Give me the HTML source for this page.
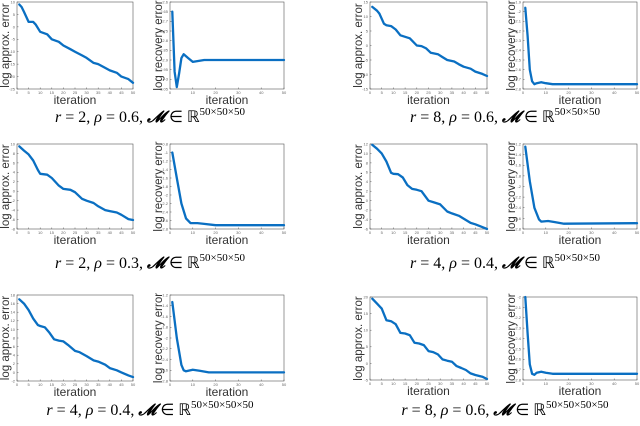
<!DOCTYPE html>
<html><head><meta charset="utf-8"><style>
html,body{margin:0;padding:0;background:#fff;width:640px;height:426px;overflow:hidden}
.cap{position:absolute;font-family:"Liberation Serif",serif;font-size:16px;white-space:nowrap;transform:translateX(-50%)}
.cap i{font-style:italic}
.cap sup{font-size:11px;vertical-align:7px}
</style></head><body>
<svg id="fig" width="640" height="426" style="position:absolute;left:0;top:0"></svg>
<div class="cap" style="left:150px;top:106px"><i>r</i> = 2, <i>ρ</i> = 0.6, <b><i>𝓜</i></b> ∈ ℝ<sup>50×50×50</sup></div>
<div class="cap" style="left:505px;top:106px"><i>r</i> = 8, <i>ρ</i> = 0.6, <b><i>𝓜</i></b> ∈ ℝ<sup>50×50×50</sup></div>
<div class="cap" style="left:150px;top:252px"><i>r</i> = 2, <i>ρ</i> = 0.3, <b><i>𝓜</i></b> ∈ ℝ<sup>50×50×50</sup></div>
<div class="cap" style="left:505px;top:252px"><i>r</i> = 4, <i>ρ</i> = 0.4, <b><i>𝓜</i></b> ∈ ℝ<sup>50×50×50</sup></div>
<div class="cap" style="left:150px;top:399px"><i>r</i> = 4, <i>ρ</i> = 0.4, <b><i>𝓜</i></b> ∈ ℝ<sup>50×50×50×50</sup></div>
<div class="cap" style="left:505px;top:399px"><i>r</i> = 8, <i>ρ</i> = 0.6, <b><i>𝓜</i></b> ∈ ℝ<sup>50×50×50×50</sup></div>
<script>
// data arrays
const p1x=[1,2,3,5,7,8,10,13,15,18,20,23,25,28,30,33,35,38,40,43,45,48,50];
const p1y=[9,8,6,2,2,1,-2,-3,-5,-6,-7.5,-9,-10,-11.5,-12.5,-14.5,-15,-16.5,-17.5,-18.5,-20,-21,-22.5];
const p2x=[1,2,3,4,5,6,8,10,15,50];
const p2y=[-2.65,-2.96,-3.04,-2.97,-2.89,-2.87,-2.89,-2.91,-2.9,-2.9];
const p3x=[1,3,5,7,9,10,13,15,18,20,23,25,28,30,33,35,38,40,43,45,48,50];
const p3y=[9.5,8.6,7.8,6.5,4.5,3.7,3.5,2.8,1.2,0.5,0.3,-0.2,-1.6,-2,-2.5,-3.2,-4,-4.2,-4.5,-5,-5.9,-6.1];
const p4x=[1,3,5,7,9,12,15,20,50];
const p4y=[-1.0,-1.6,-2.2,-2.55,-2.66,-2.66,-2.68,-2.71,-2.71];
const p5x=[1,3,5,7,9,10,12,14,16,18,20,22,25,27,30,33,35,38,40,43,45,48,50];
const p5y=[17,16,14.5,12.5,11,10.8,10.5,9.2,7.7,7.4,7.2,6.4,5.0,4.7,3.8,2.8,2.5,1.8,1,0.5,0,-0.7,-1.1];
const p6x=[1,3,5,6,7,10,13,17,50];
const p6y=[-1.33,-2,-2.5,-2.6,-2.62,-2.59,-2.61,-2.64,-2.64];
const q1x=[1,3,4,6,7,9,11,13,15,17,20,22,24,26,29,31,33,36,38,40,43,45,48,50];
const q1y=[13.3,12,11,7.5,7,6.7,5.5,3.5,3,2.5,0,-0.2,-1,-2.5,-3,-4,-5,-5.5,-6.5,-7.3,-8,-9,-9.8,-10.5];
const q2x=[1,2,3,4,5,6,8,10,13,50];
const q2y=[-1.96,-2.25,-2.6,-2.72,-2.75,-2.74,-2.73,-2.74,-2.75,-2.75];
const q3x=[1,3,5,7,9,10,12,14,16,18,20,22,25,27,30,33,35,38,40,43,45,48,50];
const q3y=[11.8,11,10,8.3,5.9,5.7,5.6,4.9,3.3,2.5,2.3,2,0,-0.3,-0.8,-2.3,-2.7,-3.2,-3.8,-4.7,-5,-5.6,-6];
const q4x=[1,3,5,7,8,11,14,18,50];
const q4y=[-1.25,-1.9,-2.4,-2.62,-2.66,-2.65,-2.67,-2.7,-2.69];
const q5x=[1,3,5,7,9,11,13,15,17,19,21,23,25,27,29,31,33,35,37,39,41,43,45,48,50];
const q5y=[19.5,18,16.5,13,12.7,11.8,9.2,9,8.5,6.2,6,5.5,3.7,3.4,2.7,1.2,0.8,0.5,-0.8,-1.4,-2,-3,-3.5,-4,-4.7];
const q6x=[1,2,3,4,5,6,8,10,13,50];
const q6y=[-2,-2.35,-2.65,-2.74,-2.75,-2.73,-2.72,-2.73,-2.74,-2.74];
const xTicks=[0,5,10,15,20,25,30,35,40,45,50];
const xTicksR=[0,10,20,30,40,50];

const NS="http://www.w3.org/2000/svg";
const svg=document.getElementById('fig');
function mk(t,a,p){const e=document.createElementNS(NS,t);for(const k in a)e.setAttribute(k,a[k]);(p||svg).appendChild(e);return e;}
const panels=[
 {n:'approx-r2-rho06',x0:17,x1:133,y0:2,y1:89,mn:-25,mx:10,st:5,xs:p1x,ys:p1y,lab:'log approx. error',xt:xTicks},
 {n:'recovery-r2-rho06',x0:170,x1:284,y0:2,y1:89,mn:-3.05,mx:-2.6,st:0.05,xs:p2x,ys:p2y,lab:'log recovery error',xt:xTicksR},
 {n:'approx-r8-rho06',x0:370,x1:487,y0:2,y1:89,mn:-15,mx:15,st:5,xs:q1x,ys:q1y,lab:'log approx. error',xt:xTicks},
 {n:'recovery-r8-rho06',x0:523,x1:637,y0:2,y1:89,mn:-2.8,mx:-1.9,st:0.1,xs:q2x,ys:q2y,lab:'log recovery error',xt:xTicksR},
 {n:'approx-r2-rho03',x0:17,x1:133,y0:144,y1:229,mn:-8,mx:10,st:2,xs:p3x,ys:p3y,lab:'log approx. error',xt:xTicks},
 {n:'recovery-r2-rho03',x0:170,x1:284,y0:144,y1:229,mn:-2.8,mx:-0.8,st:0.2,xs:p4x,ys:p4y,lab:'log recovery error',xt:xTicksR},
 {n:'approx-r4-rho04',x0:370,x1:487,y0:144,y1:229,mn:-6,mx:12,st:2,xs:q3x,ys:q3y,lab:'log approx. error',xt:xTicks},
 {n:'recovery-r4-rho04',x0:523,x1:637,y0:144,y1:229,mn:-2.8,mx:-1.2,st:0.2,xs:q4x,ys:q4y,lab:'log recovery error',xt:xTicksR},
 {n:'approx-r4-rho04-4way',x0:17,x1:133,y0:295,y1:381,mn:-2,mx:18,st:2,xs:p5x,ys:p5y,lab:'log approx. error',xt:xTicks},
 {n:'recovery-r4-rho04-4way',x0:170,x1:284,y0:295,y1:381,mn:-2.8,mx:-1.2,st:0.2,xs:p6x,ys:p6y,lab:'log recovery error',xt:xTicksR},
 {n:'approx-r8-rho06-4way',x0:370,x1:487,y0:297,y1:380,mn:-5,mx:20,st:5,xs:q5x,ys:q5y,lab:'log approx. error',xt:xTicks},
 {n:'recovery-r8-rho06-4way',x0:523,x1:637,y0:297,y1:380,mn:-2.8,mx:-2,st:0.1,xs:q6x,ys:q6y,lab:'log recovery error',xt:xTicksR}
];
panels.forEach(P=>{
 const g=mk('g',{});
 
 
 const sx=v=>P.x0+(v-0)/(50-0)*(P.x1-P.x0);
 const sy=v=>P.y1-(v-P.mn)/(P.mx-P.mn)*(P.y1-P.y0);
 const box=mk('rect',{x:P.x0,y:P.y0,width:P.x1-P.x0,height:P.y1-P.y0,fill:'none',stroke:'#555','stroke-width':0.6},g);
 
 
 P.xt.forEach(t=>{
  mk('line',{x1:sx(t),x2:sx(t),y1:P.y1,y2:P.y1-1.5,stroke:'#555','stroke-width':0.5},g);
  const tx=mk('text',{x:sx(t),y:P.y1+5,'font-size':4,'text-anchor':'middle',fill:'#666','font-family':'Liberation Sans,sans-serif'},g);
  tx.textContent=t;
  
  
 });
 const n=Math.round((P.mx-P.mn)/P.st);
 for(let i=0;i<=n;i++){
  const v=P.mn+i*P.st;
  mk('line',{x1:P.x0,x2:P.x0+1.5,y1:sy(v),y2:sy(v),stroke:'#555','stroke-width':0.5},g);
  const tx=mk('text',{x:P.x0-2,y:sy(v)+1.4,'font-size':4,'text-anchor':'end',fill:'#666','font-family':'Liberation Sans,sans-serif'},g);
  tx.textContent=+v.toFixed(2);
  
  
 }
 const pts=P.xs.map((x,i)=>sx(x).toFixed(1)+','+sy(P.ys[i]).toFixed(1)).join(' ');
 const line=mk('polyline',{points:pts,fill:'none',stroke:'#0a6fc2','stroke-width':2.3,'stroke-linejoin':'round','stroke-linecap':'round'},g);
 
 
 const xl=mk('text',{x:(P.x0+P.x1)/2,y:P.y1+15,'font-size':12,'text-anchor':'middle',fill:'#333','font-family':'Liberation Sans,sans-serif'},g);
 xl.textContent='iteration';
 
 
 const cx=P.x0-8,cy=(P.y0+P.y1)/2;
 const yl=mk('text',{x:cx,y:cy,'font-size':11.5,'text-anchor':'middle',fill:'#333','font-family':'Liberation Sans,sans-serif',transform:`rotate(-90 ${cx} ${cy})`},g);
 yl.textContent=P.lab;
 
 
});
</script>
</body></html>
